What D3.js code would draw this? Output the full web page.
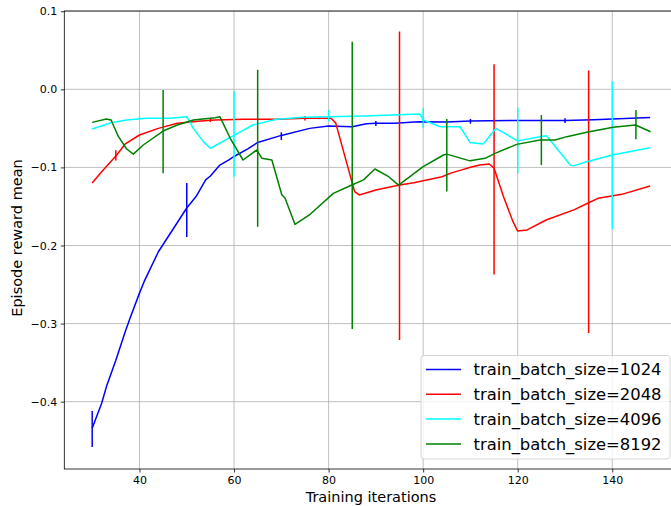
<!DOCTYPE html>
<html>
<head>
<meta charset="utf-8">
<script src="https://cdn.jsdelivr.net/npm/d3@7"></script>
<style>
  body { margin: 0; background: #fff; }
  svg { font-family: "DejaVu Sans", sans-serif; }
</style>
</head>
<body>
<svg id="chart" width="671" height="506"></svg>
<script>
// values
var seriesNames = ["train_batch_size=1024", "train_batch_size=2048", "train_batch_size=4096", "train_batch_size=8192"];
var seriesColors = ["#0000ff", "#ff0000", "#00ffff", "#008000"];

var iters1024 = [30, 32, 33, 35, 37, 38, 40, 41, 44, 50, 52, 54, 55, 57, 59, 60, 63, 65, 70, 76, 80, 85, 88, 90, 94, 99, 105, 110, 119, 130, 136, 148];
var reward1024 = [-0.434, -0.402, -0.381, -0.347, -0.310, -0.293, -0.261, -0.246, -0.208, -0.152, -0.137, -0.116, -0.111, -0.097, -0.090, -0.086, -0.076, -0.068, -0.059, -0.050, -0.047, -0.048, -0.044, -0.0435, -0.0435, -0.0415, -0.042, -0.0406, -0.040, -0.040, -0.039, -0.036];

var iters2048 = [30, 32, 35, 37, 40, 44, 48, 53, 56, 62, 69, 75, 80.5, 81.5, 85.5, 86.5, 90, 95, 98, 101.5, 104, 106, 108, 110, 112, 114, 115, 117, 119, 120, 122, 126, 132, 135, 137, 142, 148];
var reward2048 = [-0.120, -0.1055, -0.0854, -0.070, -0.0585, -0.050, -0.0435, -0.0406, -0.0393, -0.0384, -0.0384, -0.037, -0.037, -0.043, -0.131, -0.1353, -0.129, -0.1226, -0.1195, -0.1152, -0.112, -0.107, -0.1035, -0.0999, -0.097, -0.0956, -0.101, -0.1375, -0.1695, -0.1815, -0.180, -0.1673, -0.154, -0.1452, -0.1396, -0.1345, -0.1238];

var iters4096 = [30, 34, 37.3, 41.5, 46.5, 50, 51.4, 53.5, 55, 60, 64, 69, 74.7, 80, 87.7, 99.3, 100, 103.6, 107.8, 109.9, 112.7, 115.4, 120, 124.7, 126.1, 131.1, 131.75, 134.6, 140, 148];
var reward4096 = [-0.0508, -0.0428, -0.0393, -0.0371, -0.0371, -0.035, -0.050, -0.067, -0.0755, -0.059, -0.0457, -0.0384, -0.0359, -0.0351, -0.0342, -0.0316, -0.0393, -0.0479, -0.0479, -0.068, -0.070, -0.050, -0.066, -0.0607, -0.0594, -0.097, -0.098, -0.0927, -0.0841, -0.0748];

var iters8192 = [30, 33, 34, 35.5, 37.3, 38.7, 40.8, 45, 48, 51.4, 56, 57, 59.2, 61.9, 64.8, 65.9, 68, 70.1, 70.8, 72.9, 76.1, 81, 84.9, 87.4, 89.8, 92.7, 94.8, 97.2, 100, 104.3, 105, 109.9, 113.1, 115.2, 119.8, 124.7, 127.9, 130.4, 134.6, 140.2, 144.9, 148.1];
var reward8192 = [-0.0423, -0.038, -0.0393, -0.060, -0.0764, -0.083, -0.0713, -0.0534, -0.0457, -0.0393, -0.0364, -0.035, -0.0627, -0.0905, -0.0777, -0.0883, -0.0905, -0.135, -0.1395, -0.173, -0.160, -0.1333, -0.1225, -0.116, -0.102, -0.1119, -0.1226, -0.1119, -0.099, -0.0841, -0.083, -0.0916, -0.0884, -0.082, -0.0705, -0.065, -0.065, -0.0606, -0.055, -0.0487, -0.0457, -0.0543];

// error bars: [iteration, low, high]
var err1024 = [[30, -0.458, -0.412], [50, -0.189, -0.120], [70, -0.065, -0.055], [90, -0.047, -0.0405], [110, -0.044, -0.038], [130, -0.043, -0.037]];
var err2048 = [[35, -0.091, -0.078], [55, -0.042, -0.037], [75, -0.040, -0.034], [95, -0.321, 0.074], [115, -0.237, 0.032], [135, -0.312, 0.024]];
var err4096 = [[40, -0.039, -0.035], [60, -0.112, -0.002], [80, -0.0415, -0.0265], [100, -0.050, -0.0235], [120, -0.1075, -0.023], [140, -0.179, 0.0106]];
var err8192 = [[45, -0.1076, -0.001], [65, -0.176, 0.025], [85, -0.307, 0.061], [105, -0.131, -0.038], [125, -0.097, -0.033], [145, -0.064, -0.0265]];

var xTicks = [40, 60, 80, 100, 120, 140];
var yTicks = [-0.4, -0.3, -0.2, -0.1, 0.0, 0.1];

var allIters = [iters1024, iters2048, iters4096, iters8192];
var allRewards = [reward1024, reward2048, reward4096, reward8192];
var allErrs = [err1024, err2048, err4096, err8192];

var svg = d3.select("#chart");
// plot box (right edge falls just outside the page, as in the reference)
var plotLeft = 64.3, plotRight = 678, plotTop = 11, plotBottom = 469;

var x = d3.scaleLinear().domain([24.1, 153.9]).range([plotLeft, plotRight]);
var y = d3.scaleLinear().domain([-0.4862, 0.1003]).range([plotBottom, plotTop]);

// grid
svg.append("g").selectAll("line").data(xTicks).join("line")
  .attr("x1", d => x(d)).attr("x2", d => x(d))
  .attr("y1", plotTop).attr("y2", plotBottom)
  .attr("stroke", "#b0b0b0").attr("stroke-width", 0.8);
svg.append("g").selectAll("line").data(yTicks).join("line")
  .attr("x1", plotLeft).attr("x2", plotRight)
  .attr("y1", d => y(d)).attr("y2", d => y(d))
  .attr("stroke", "#b0b0b0").attr("stroke-width", 0.8);

// series lines and error bars
var line = d3.line().x(d => x(d[0])).y(d => y(d[1]));
allIters.forEach(function(xs, i) {
  var pts = xs.map((v, j) => [v, allRewards[i][j]]);
  svg.append("path").datum(pts)
    .attr("d", line)
    .attr("fill", "none")
    .attr("stroke", seriesColors[i])
    .attr("stroke-width", 1.5)
    .attr("stroke-linejoin", "round");
  svg.append("g").selectAll("line").data(allErrs[i]).join("line")
    .attr("x1", d => x(d[0])).attr("x2", d => x(d[0]))
    .attr("y1", d => y(d[1])).attr("y2", d => y(d[2]))
    .attr("stroke", seriesColors[i])
    .attr("stroke-width", 1.5);
});

// axes
var xAxis = svg.append("g").attr("transform", "translate(0," + plotBottom + ")")
  .call(d3.axisBottom(x).tickValues(xTicks).tickSize(3.5).tickPadding(3.5).tickFormat(d3.format("d")));
var yAxis = svg.append("g").attr("transform", "translate(" + plotLeft + ",0)")
  .call(d3.axisLeft(y).tickValues(yTicks).tickSize(3.5).tickPadding(3.5).tickFormat(d3.format(".1f")));
[xAxis, yAxis].forEach(function(a) {
  a.select(".domain").remove();
  a.selectAll("line").attr("stroke", "#000").attr("stroke-width", 0.8);
  a.selectAll("text").attr("font-family", "DejaVu Sans").attr("font-size", 11).attr("fill", "#000");
});

// spines
svg.append("rect")
  .attr("x", plotLeft).attr("y", plotTop)
  .attr("width", plotRight - plotLeft).attr("height", plotBottom - plotTop)
  .attr("fill", "none").attr("stroke", "#000").attr("stroke-width", 0.8);

// axis labels
svg.append("text")
  .attr("x", 371).attr("y", 502)
  .attr("text-anchor", "middle")
  .attr("font-size", 14.5)
  .text("Training iterations");
svg.append("text")
  .attr("transform", "translate(22,238) rotate(-90)")
  .attr("text-anchor", "middle")
  .attr("font-size", 14.5)
  .text("Episode reward mean");

// legend
var legend = svg.append("g");
legend.append("rect")
  .attr("x", 421).attr("y", 355.5)
  .attr("width", 249).attr("height", 103.5)
  .attr("rx", 3)
  .attr("fill", "#fff").attr("fill-opacity", 0.8)
  .attr("stroke", "#cccccc").attr("stroke-width", 0.8);
var rows = legend.selectAll("g").data(seriesNames).join("g")
  .attr("transform", (d, i) => "translate(0," + (369.5 + i * 24.8) + ")");
rows.append("line")
  .attr("x1", 426).attr("x2", 461)
  .attr("stroke", (d, i) => seriesColors[i])
  .attr("stroke-width", 1.5);
rows.append("text")
  .attr("x", 473.5).attr("y", 0)
  .attr("dy", "0.36em")
  .attr("font-size", 16.4)
  .text(d => d);
</script>
</body>
</html>
